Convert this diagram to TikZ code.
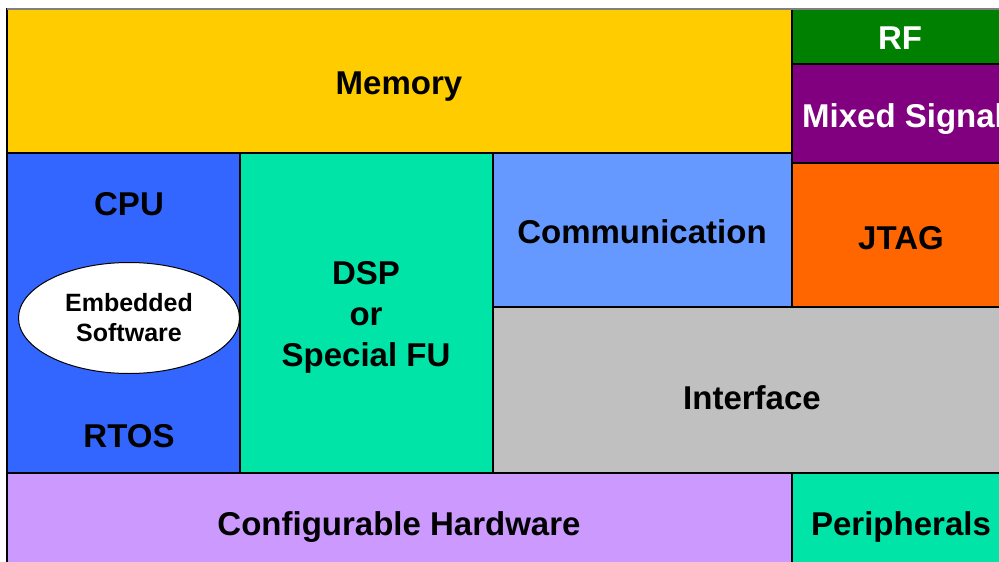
\documentclass[tikz,border=0pt]{standalone}
\usepackage{fontspec}
\setmainfont{Liberation Sans}
\usetikzlibrary{shapes.geometric, positioning}
\definecolor{memyellow}{RGB}{255,204,0}
\definecolor{rfgreen}{RGB}{0,128,0}
\definecolor{mixpurple}{RGB}{128,0,128}
\definecolor{jtagorange}{RGB}{255,102,0}
\definecolor{cpublue}{RGB}{51,102,255}
\definecolor{fugreen}{RGB}{0,228,168}
\definecolor{commblue}{RGB}{102,153,255}
\definecolor{ifgray}{RGB}{192,192,192}
\definecolor{cfglilac}{RGB}{204,153,255}
\tikzset{
    block/.style={draw=black, line width=1.3pt, inner sep=0pt},
    lbl/.style={font=\fontsize{33}{41}\selectfont\bfseries, anchor=base, align=center, inner sep=0pt}
}

\begin{document}
\begin{tikzpicture}[x=1pt, y=-1pt]
    \useasboundingbox (0,0) rectangle (999,562);
    \clip (0,0) rectangle (999,562);

    % Blocks
    \foreach \name/\xa/\ya/\xb/\yb/\col in {
        memory/7/9/792/153/memyellow,
        rf/792/9/1030/64/rfgreen,
        mixed/792/64/1030/163/mixpurple,
        jtag/792/163/1030/307/jtagorange,
        cpu/7/153/240/473/cpublue,
        dsp/240/153/493/473/fugreen,
        comm/493/153/792/307/commblue,
        iface/493/307/1030/473/ifgray,
        cfghw/7/473/792/590/cfglilac,
        periph/792/473/1030/590/fugreen%
    } {
        \node[block, fill=\col, minimum width={\xb-\xa}, minimum height={\yb-\ya}]
            (\name) at ({(\xa+\xb)/2},{(\ya+\yb)/2}) {};
    }

    % Outer frame
    \draw[gray, line width=1.3pt] (7,9) -- (1030,9);

    % Labels
    \node[lbl] (memorytxt) at (399,94) {Memory};
    \node[lbl, white] (rftxt) at (900,49) {RF};
    \node[lbl, white] (mixedtxt) at (903,127) {Mixed Signal};
    \node[lbl] (jtagtxt) at (901,249) {JTAG};
    \node[lbl] (cputxt) at (129,215) {CPU};
    \node[lbl] (rtostxt) at (129,447) {RTOS};
    \node[lbl] (dsptxt) at (366,366) {DSP\\or\\Special FU};
    \node[lbl] (commtxt) at (642,243) {Communication};
    \node[lbl] (ifacetxt) at (752,409) {Interface};
    \node[lbl] (cfghwtxt) at (399,535) {Configurable Hardware};
    \node[lbl] (periphtxt) at (901,535) {Peripherals};

    % Software on the CPU
    \node[draw, ellipse, fill=white, line width=1pt, minimum width=221, minimum height=111,
          inner sep=0pt, align=center, font=\fontsize{25}{30}\selectfont\bfseries]
        (embsw) at (129,318) {Embedded\\Software};
\end{tikzpicture}
\end{document}
